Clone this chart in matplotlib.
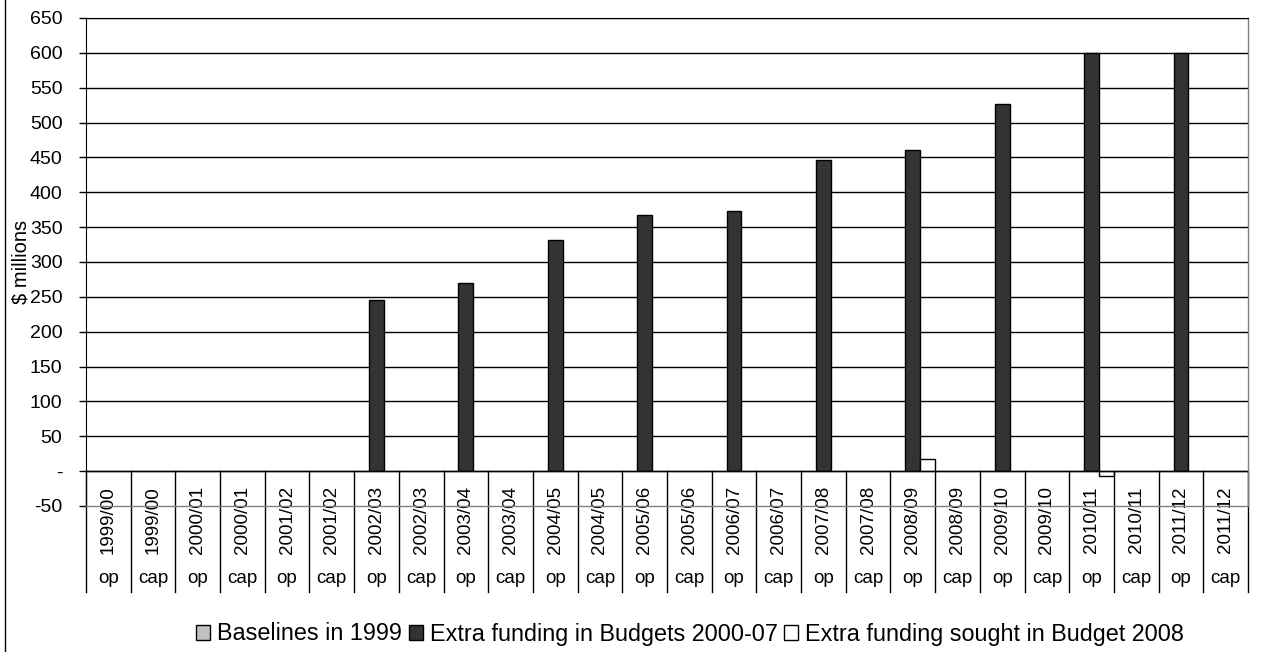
import matplotlib
matplotlib.use("Agg")
import matplotlib.pyplot as plt
from matplotlib.lines import Line2D
from matplotlib.patches import Patch
import numpy as np

plt.rcParams['font.family'] = ['Liberation Sans', 'DejaVu Sans']

# Financial years, each split into operating and capital funding
years = ['1999/00', '2000/01', '2001/02', '2002/03', '2003/04', '2004/05', '2005/06',
         '2006/07', '2007/08', '2008/09', '2009/10', '2010/11', '2011/12']
kinds = ['op', 'cap']

# $ millions per (year, kind) category
baselines_1999 = [0, 0, 0, 0, 0, 0, 0, 0, 0, 0, 0, 0, 0,
                  0, 0, 0, 0, 0, 0, 0, 0, 0, 0, 0, 0, 0]
extra_budgets_2000_07 = [0, 0, 0, 0, 0, 0, 246, 0, 270, 0, 332, 0, 368,
                         0, 373, 0, 446, 0, 461, 0, 527, 0, 600, 0, 600, 0]
extra_sought_2008 = [0, 0, 0, 0, 0, 0, 0, 0, 0, 0, 0, 0, 0,
                     0, 0, 0, 0, 0, 18, 0, 0, 0, -7, 0, 0, 0]

series_names = ['Baselines in 1999', 'Extra funding in Budgets 2000-07',
                'Extra funding sought in Budget 2008']
series_colors = ['#C0C0C0', '#333333', '#FFFFFF']

y_ticks = list(range(-50, 651, 50))

W, H = 1263, 652
fig = plt.figure(figsize=(W / 100, H / 100), dpi=100)
fig.patch.set_facecolor('white')

left_px, right_px, top_px, bot_px = 86, 1248, 18, 506
ax = fig.add_axes([left_px / W, 1 - bot_px / H, (right_px - left_px) / W, (bot_px - top_px) / H])

cat_labels_year = [y for y in years for _ in kinds]
cat_labels_kind = [k for _ in years for k in kinds]
n = len(cat_labels_year)
x = np.arange(n)
bw = 1 / 3

for j, (vals, col) in enumerate(zip([baselines_1999, extra_budgets_2000_07, extra_sought_2008],
                                    series_colors)):
    ax.bar(x + (j - 1) * bw, vals, width=bw, color=col, edgecolor='black',
           linewidth=1, zorder=3)

ax.set_xlim(-0.5, n - 0.5)
ax.set_ylim(-50, 650)
ax.set_yticks(y_ticks)
ax.set_yticklabels(['-' if v == 0 else str(v) for v in y_ticks], fontsize=14)
ax.tick_params(axis='y', direction='out', length=5, width=1, color='black', pad=12)
ax.set_xticks([])

for v in y_ticks:
    if v not in (-50, 0):
        ax.axhline(v, color='black', linewidth=1, zorder=1)
ax.axhline(0, color='black', linewidth=1, zorder=4)

for side in ('right', 'bottom'):
    ax.spines[side].set_color('#808080')
    ax.spines[side].set_linewidth(1)
ax.spines['top'].set_color('black')
ax.spines['left'].set_color('black')
for sp in ax.spines.values():
    sp.set_zorder(5)

# Category table below the zero line
def px_to_data(py):
    return (471 - py) * 700 / (bot_px - top_px)

sep_bottom = px_to_data(592)
for b in np.arange(n + 1) - 0.5:
    ax.plot([b, b], [0, sep_bottom], color='black', linewidth=1, clip_on=False, zorder=4)

y_year = px_to_data(520)
y_kind = px_to_data(578)
for i in range(n):
    ax.text(i, y_year, cat_labels_year[i], rotation=90, ha='center', va='center',
            fontsize=13.5, clip_on=False, zorder=2)
    ax.text(i, y_kind, cat_labels_kind[i], ha='center', va='center',
            fontsize=13.5, clip_on=False, zorder=2)

fig.text(21 / W, 1 - 262 / H, '$ millions', rotation=90, ha='center', va='center',
         fontsize=14.5)

handles = [Patch(facecolor=c, edgecolor='black', linewidth=1) for c in series_colors]
fig.legend(handles, series_names, loc='center', bbox_to_anchor=(690 / W, 1 - 634 / H),
           ncol=3, frameon=False, fontsize=16.8, handlelength=0.6, handleheight=0.6,
           handletextpad=0.3, columnspacing=0.3)

fig.add_artist(Line2D([5 / W, 5 / W], [0, 1], transform=fig.transFigure,
                      color='black', linewidth=1))

fig.savefig('out.png', dpi=100)
